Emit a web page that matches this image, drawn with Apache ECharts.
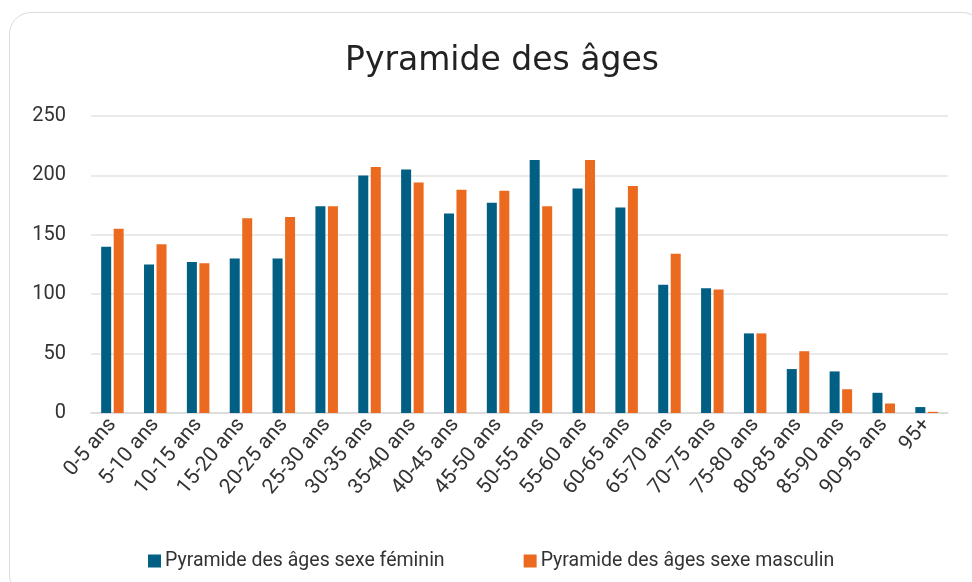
<!DOCTYPE html>
<html>
<head>
<meta charset="utf-8">
<script src="https://cdn.jsdelivr.net/npm/echarts@6/dist/echarts.min.js"></script>
<style>
html, body { margin: 0; padding: 0; background: #fff; }
#card {
    position: absolute; left: 9px; top: 12px; width: 975px; height: 585px;
    border: 1.5px solid #dcdcdc; border-radius: 22px; box-sizing: border-box;
}
#main { position: absolute; left: 0; top: 0; width: 972px; height: 582px; }
</style>
</head>
<body>
<div id="card"></div>
<div id="main"></div>
<script>
// Tranches d'âge
var categories = ['0-5 ans', '5-10 ans', '10-15 ans', '15-20 ans', '20-25 ans', '25-30 ans',
    '30-35 ans', '35-40 ans', '40-45 ans', '45-50 ans', '50-55 ans', '55-60 ans', '60-65 ans',
    '65-70 ans', '70-75 ans', '75-80 ans', '80-85 ans', '85-90 ans', '90-95 ans', '95+'];
var feminin = [140, 125, 127, 130, 130, 174, 200, 205, 168, 177, 213, 189, 173, 108, 105, 67, 37, 35, 17, 5];
var masculin = [155, 142, 126, 164, 165, 174, 207, 194, 188, 187, 174, 213, 191, 134, 104, 67, 52, 20, 8, 1];
var yTicks = [0, 50, 100, 150, 200, 250];

var chartDom = document.getElementById('main');
var myChart = echarts.init(chartDom);
var font = 'Roboto';

var option = {
    animation: false,
    title: {
        text: 'Pyramide des âges',
        left: 340,
        top: 40,
        textStyle: { fontFamily: 'DejaVu Sans', fontSize: 33, fontWeight: 'normal', color: '#222' }
    },
    legend: {
        data: ['Pyramide des âges sexe féminin', 'Pyramide des âges sexe masculin'],
        left: 143,
        top: 546,
        itemWidth: 13,
        itemHeight: 13,
        itemGap: 79,
        icon: 'rect',
        textStyle: { fontFamily: font, fontSize: 19.5, color: '#333', padding: [0, 0, 0, -1] }
    },
    grid: { left: 91, right: 24, top: 116, bottom: 169, containLabel: false },
    xAxis: {
        type: 'category',
        data: categories,
        axisTick: { show: false },
        axisLine: { lineStyle: { color: '#d9d9d9', width: 1.5 } },
        axisLabel: { rotate: 50, interval: 0, margin: 8, fontFamily: font, fontSize: 21, color: '#333' }
    },
    yAxis: {
        type: 'value',
        min: yTicks[0],
        max: yTicks[yTicks.length - 1],
        interval: 50,
        axisLine: { show: false },
        axisTick: { show: false },
        splitLine: { lineStyle: { color: '#e3e3e3', width: 1.5 } },
        axisLabel: { margin: 25, fontFamily: font, fontSize: 20, color: '#333' }
    },
    series: [
        {
            name: 'Pyramide des âges sexe féminin',
            type: 'bar',
            barWidth: 10,
            barGap: '25%',
            itemStyle: { color: '#005f83' },
            data: feminin
        },
        {
            name: 'Pyramide des âges sexe masculin',
            type: 'bar',
            barWidth: 10,
            barGap: '25%',
            itemStyle: { color: '#eb6a20' },
            data: masculin
        }
    ]
};
myChart.setOption(option);
window.addEventListener('resize', function () { myChart.resize(); });
</script>
</body>
</html>
